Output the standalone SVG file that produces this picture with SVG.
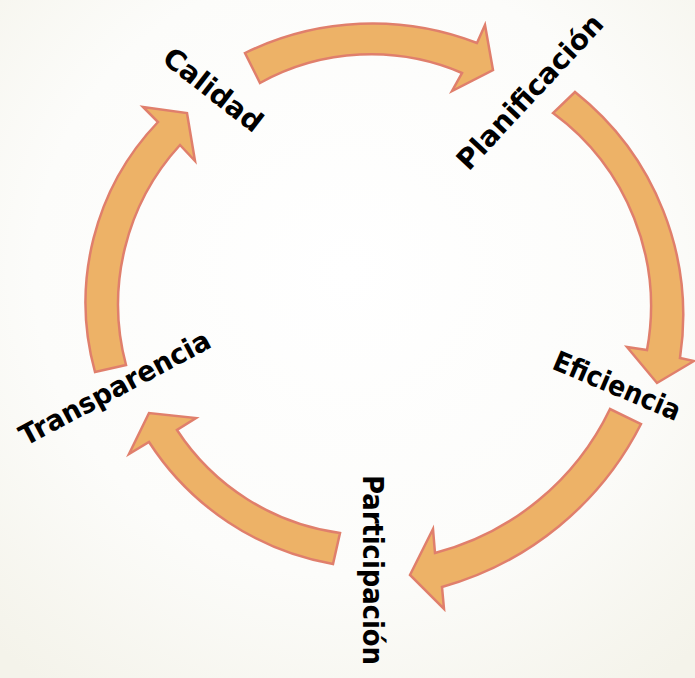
<svg xmlns="http://www.w3.org/2000/svg" width="695" height="678" viewBox="0 0 695 678">
  <defs>
    <radialGradient id="bg" cx="0.5" cy="0.4" r="0.75">
      <stop offset="0" stop-color="#ffffff"/>
      <stop offset="0.6" stop-color="#fcfcfa"/>
      <stop offset="1" stop-color="#f4f3ea"/>
    </radialGradient>
    <style>
      .arrow { fill: #EDB267; stroke: #E07F6C; stroke-width: 2.5; stroke-linejoin: miter; }
      .lbl { font-family: "DejaVu Sans", "Liberation Sans", sans-serif; font-weight: bold; font-size: 28px; fill: #000000; text-anchor: middle; dominant-baseline: central; }
    </style>
  </defs>
  <rect x="0" y="0" width="695" height="678" fill="url(#bg)"/>
  <g id="connectors">
    <path id="arrow-calidad-planificacion" class="arrow" d="M245,53 A290,290 0 0 1 477,43 L485,25 L493,70 L452,91 L462,73 A230,230 0 0 0 260,83 Z"/>
    <path id="arrow-planificacion-eficiencia" class="arrow" d="M575,92 A285,285 0 0 1 680,358 L694,361 L657,383 L627,347 L647,350 A240,240 0 0 0 553,113 Z"/>
    <path id="arrow-eficiencia-participacion" class="arrow" d="M641,424 A319,319 0 0 1 442,587 L444,609 L410,575 L433,529 L435,553 A269,269 0 0 0 610,409 Z"/>
    <path id="arrow-participacion-transparencia" class="arrow" d="M333,564 A276,276 0 0 1 149,442 L129,454 L149,413 L196,418 L177,430 A232,232 0 0 0 340,533 Z"/>
    <path id="arrow-transparencia-calidad" class="arrow" d="M95,372 A261,261 0 0 1 158,122 L143,107 L187,113 L195,161 L180,145 A236,236 0 0 0 126,365 Z"/>
  </g>
  <g id="node-calidad">
    <text class="lbl" transform="translate(213,90) rotate(38)">Calidad</text>
  </g>
  <g id="node-planificacion">
    <text class="lbl" transform="translate(530,92) rotate(-47)">Planificación</text>
  </g>
  <g id="node-eficiencia">
    <text class="lbl" transform="translate(617,386) rotate(23)" textLength="136" lengthAdjust="spacingAndGlyphs">Eficiencia</text>
  </g>
  <g id="node-participacion">
    <text class="lbl" transform="translate(372,570) rotate(90)" textLength="190" lengthAdjust="spacingAndGlyphs">Participación</text>
  </g>
  <g id="node-transparencia">
    <text class="lbl" transform="translate(115,388) rotate(-28)" textLength="212" lengthAdjust="spacingAndGlyphs">Transparencia</text>
  </g>
</svg>
